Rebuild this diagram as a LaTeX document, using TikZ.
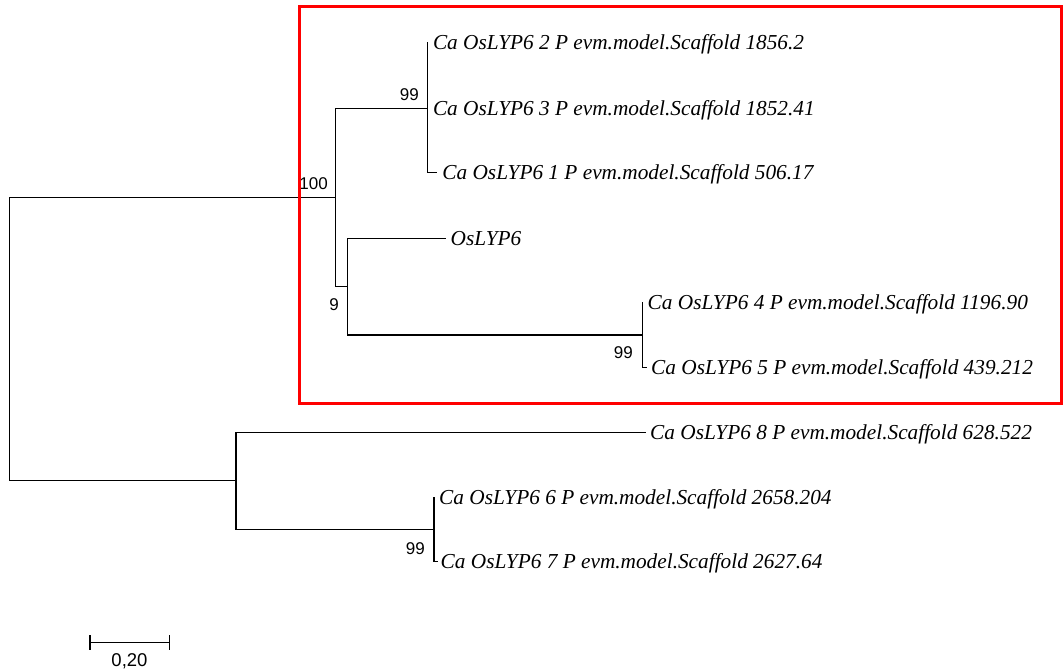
\documentclass[tikz,border=0pt]{standalone}
\usepackage{fontspec}
\setmainfont{Liberation Serif}
\newfontfamily\numfont{Liberation Sans}

\begin{document}
\begin{tikzpicture}[x=1pt,y=-1pt,
  branch/.style={line width=1.5pt, line cap=rect, line join=miter},
  leaf/.style={anchor=base west, inner sep=0pt, font=\fontsize{21.3}{25}\selectfont\itshape},
  boot/.style={anchor=base east, inner sep=0pt, font=\numfont\fontsize{17}{20}\selectfont},
  clade/.style={draw={rgb,255:red,255;green,0;blue,0}, line width=3.3pt}]
\useasboundingbox (0,0) rectangle (1064,669);

% internal nodes of the tree
\coordinate (R) at (9.5,339.2);
\coordinate (A) at (335.7,197.7);
\coordinate (B) at (427.3,108.3);
\coordinate (C) at (347.7,286.7);
\coordinate (D) at (642.5,335);
\coordinate (E) at (236,480.7);
\coordinate (F) at (434,529.3);

% branch tips
\coordinate (t2) at (427.3,42.7);
\coordinate (t3) at (427.3,108.3);
\coordinate (t1) at (436.7,172.7);
\coordinate (to) at (445,238.3);
\coordinate (t4) at (642.5,302.7);
\coordinate (t5) at (646,367.3);
\coordinate (t8) at (645,432.3);
\coordinate (t6) at (434,497.3);
\coordinate (t7) at (437,561.7);

% branches
\draw[branch] (R) |- (A);
\draw[branch] (R) |- (E);
\draw[branch] (A) |- (B);
\draw[branch] (A) |- (C);
\draw[branch] (B) |- (t2);
\draw[branch] (B) |- (t3);
\draw[branch] (B) |- (t1);
\draw[branch] (C) |- (to);
\draw[branch] (C) |- (D);
\draw[branch] (D) |- (t4);
\draw[branch] (D) |- (t5);
\draw[branch] (E) |- (t8);
\draw[branch] (E) |- (F);
\draw[branch] (F) |- (t6);
\draw[branch] (F) |- (t7);

% taxon names
\node[leaf] (n2) at ([xshift=5.5pt,yshift=-7pt]t2) {Ca OsLYP6 2 P evm.model.Scaffold 1856.2};
\node[leaf] (n3) at ([xshift=5.5pt,yshift=-7pt]t3) {Ca OsLYP6 3 P evm.model.Scaffold 1852.41};
\node[leaf] (n1) at ([xshift=5.5pt,yshift=-7pt]t1) {Ca OsLYP6 1 P evm.model.Scaffold 506.17};
\node[leaf] (no) at ([xshift=5.5pt,yshift=-7pt]to) {OsLYP6};
\node[leaf] (n4) at ([xshift=5pt,yshift=-7pt]t4) {Ca OsLYP6 4 P evm.model.Scaffold 1196.90};
\node[leaf] (n5) at ([xshift=5pt,yshift=-7pt]t5) {Ca OsLYP6 5 P evm.model.Scaffold 439.212};
\node[leaf] (n8) at ([xshift=5pt,yshift=-7pt]t8) {Ca OsLYP6 8 P evm.model.Scaffold 628.522};
\node[leaf] (n6) at ([xshift=5pt,yshift=-7pt]t6) {Ca OsLYP6 6 P evm.model.Scaffold 2658.204};
\node[leaf] (n7) at ([xshift=3.5pt,yshift=-7pt]t7) {Ca OsLYP6 7 P evm.model.Scaffold 2627.64};

% bootstrap values
\node[boot] (bB) at (419,100) {99};
\node[boot] (bA) at (328,189) {100};
\node[boot] (bC) at (339,310) {9};
\node[boot] (bD) at (633,358) {99};
\node[boot] (bF) at (425,554) {99};

% highlighted clade
\draw[clade] (299.6,6.6) rectangle (1061.2,403.3);

% scale bar
\coordinate (s0) at (90,642.3);
\coordinate (s1) at (169.3,642.3);
\draw[branch, line cap=butt] (s0) -- (s1);
\draw[branch, line cap=butt] ([yshift=7.2pt]s0) -- ([yshift=-7.2pt]s0);
\draw[branch, line cap=butt] ([yshift=7.2pt]s1) -- ([yshift=-7.2pt]s1);
\node[anchor=base, inner sep=0pt, font=\numfont\fontsize{18.5}{22}\selectfont] (sl) at (129.5,666) {0,20};
\end{tikzpicture}
\end{document}
